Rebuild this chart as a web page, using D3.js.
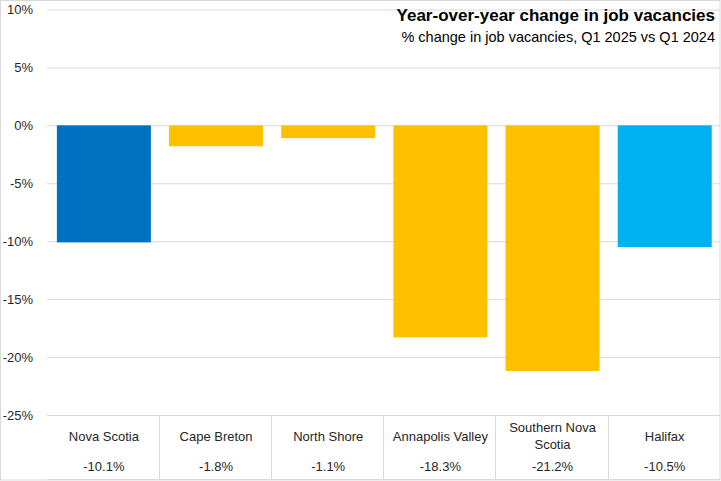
<!DOCTYPE html>
<html>
<head>
<meta charset="utf-8">
<script src="https://cdn.jsdelivr.net/npm/d3@7/dist/d3.min.js"></script>
<style>
  html, body { margin: 0; padding: 0; background: #fff; }
  svg { display: block; font-family: "Liberation Sans", Arial, sans-serif; }
</style>
</head>
<body>
<svg id="chart" width="721" height="481"></svg>
<script>
const categories = ["Nova Scotia", "Cape Breton", "North Shore", "Annapolis Valley", "Southern Nova Scotia", "Halifax"];
const categoryLines = [["Nova Scotia"], ["Cape Breton"], ["North Shore"], ["Annapolis Valley"], ["Southern Nova", "Scotia"], ["Halifax"]];
const values = [-10.1, -1.8, -1.1, -18.3, -21.2, -10.5];
const valueLabels = ["-10.1%", "-1.8%", "-1.1%", "-18.3%", "-21.2%", "-10.5%"];
const barColors = ["#0070C0", "#FFC000", "#FFC000", "#FFC000", "#FFC000", "#00B0F0"];
const yTicks = [10, 5, 0, -5, -10, -15, -20, -25];
const title = "Year-over-year change in job vacancies";
const subtitle = "% change in job vacancies, Q1 2025 vs Q1 2024";

const svg = d3.select("#chart");
const W = 721, H = 481;
const plotLeft = 47, plotRight = 720, plotTop = 9.5, plotBottom = 415, tableBottom = 480;

const x = d3.scaleBand().domain(categories).range([plotLeft + 0.8, plotRight + 0.8]).paddingInner(0.162).paddingOuter(0.081);
const y = d3.scaleLinear().domain([-25, 10]).range([plotBottom, plotTop]);

// outer border
svg.append("rect").attr("x", 0.5).attr("y", 0.5).attr("width", W - 1.5).attr("height", H - 1.5)
  .attr("fill", "none").attr("stroke", "#d9d9d9").attr("stroke-width", 1);

// gridlines
const yAxis = d3.axisLeft(y).tickValues(yTicks).tickSize(-(plotRight - plotLeft)).tickFormat(d => d + "%").tickPadding(14);
const gy = svg.append("g").attr("transform", `translate(${plotLeft},0)`).call(yAxis);
gy.select(".domain").remove();
gy.selectAll(".tick line").attr("stroke", "#d9d9d9").attr("stroke-width", 1);
gy.selectAll(".tick text").attr("fill", "#262626").style("font-size", "13px")
  .style("font-family", "'Liberation Sans', Arial, sans-serif");

// bars
svg.append("g").selectAll("rect").data(categories).join("rect")
  .attr("x", d => x(d))
  .attr("width", x.bandwidth())
  .attr("y", (d, i) => y(Math.max(0, values[i])))
  .attr("height", (d, i) => Math.abs(y(values[i]) - y(0)))
  .attr("fill", (d, i) => barColors[i]);

// table lines
const g = svg.append("g");
g.append("line").attr("x1", plotLeft).attr("x2", plotRight).attr("y1", tableBottom - 0.5).attr("y2", tableBottom - 0.5)
  .attr("stroke", "#d9d9d9");
categories.forEach((c, i) => {
  if (i === 0) return;
  const bx = Math.round(x(c) - x.step() * x.paddingInner() / 2) - 0.5;
  g.append("line").attr("x1", bx).attr("x2", bx).attr("y1", plotBottom).attr("y2", tableBottom)
    .attr("stroke", "#d9d9d9");
});

// category labels
const labG = svg.append("g").attr("fill", "#262626").style("font-size", "13px").attr("text-anchor", "middle");
categories.forEach((c, i) => {
  const cx = x(c) + x.bandwidth() / 2;
  const lines = categoryLines[i];
  const baseY = lines.length === 1 ? 441 : 432;
  lines.forEach((ln, j) => {
    labG.append("text").attr("x", cx).attr("y", baseY + j * 17).text(ln);
  });
  labG.append("text").attr("x", cx).attr("y", 471).text(valueLabels[i]);
});

// title
svg.append("text").attr("x", 715).attr("y", 21).attr("text-anchor", "end")
  .style("font-size", "17px").style("font-weight", "bold").attr("fill", "#000").text(title);
svg.append("text").attr("x", 715).attr("y", 42).attr("text-anchor", "end")
  .style("font-size", "14.5px").attr("fill", "#000").text(subtitle);
</script>
</body>
</html>
